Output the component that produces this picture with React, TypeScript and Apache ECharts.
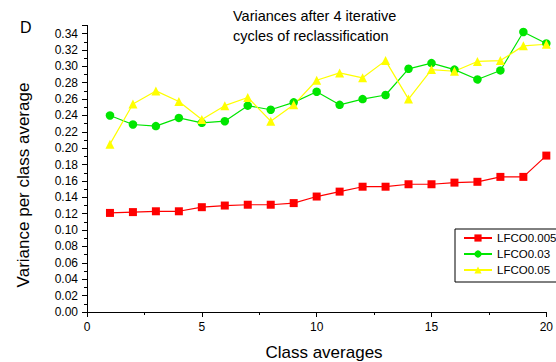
import React, { useEffect, useRef } from "react";
import * as echarts from "echarts";

const classes = [1, 2, 3, 4, 5, 6, 7, 8, 9, 10, 11, 12, 13, 14, 15, 16, 17, 18, 19, 20];
const lfco005 = [0.121, 0.122, 0.123, 0.123, 0.128, 0.130, 0.131, 0.131, 0.133, 0.141, 0.147, 0.153, 0.153, 0.156, 0.156, 0.158, 0.159, 0.165, 0.165, 0.191];
const lfco003 = [0.240, 0.229, 0.227, 0.237, 0.231, 0.233, 0.252, 0.247, 0.256, 0.269, 0.253, 0.260, 0.265, 0.297, 0.304, 0.296, 0.284, 0.295, 0.342, 0.328];
const lfco05 = [0.205, 0.254, 0.270, 0.257, 0.235, 0.252, 0.262, 0.233, 0.253, 0.283, 0.292, 0.286, 0.307, 0.260, 0.296, 0.294, 0.306, 0.307, 0.325, 0.327];
const seriesNames = ["LFCO0.005", "LFCO0.03", "LFCO0.05"];

const FONT = "'Liberation Sans', Arial, sans-serif";

export default function App() {
  const ref = useRef<HTMLDivElement>(null);
  useEffect(() => {
    if (!ref.current) return;
    const chart = echarts.init(ref.current, null, { renderer: "svg" });
    const pairs = (vals: number[]) => classes.map((c, i) => [c, vals[i]]);
    const mk = (name: string, vals: number[], color: string, symbol: string, size: number) => ({
      name,
      type: "line",
      data: pairs(vals),
      symbol,
      symbolSize: size,
      showAllSymbol: true,
      lineStyle: { color, width: 1.2 },
      itemStyle: { color, borderWidth: 0 },
      emphasis: { disabled: true },
    });
    chart.setOption({
      animation: false,
      backgroundColor: "#fff",
      textStyle: { fontFamily: FONT },
      grid: { left: 87, right: 5, top: 25.4, bottom: 50, containLabel: false },
      xAxis: {
        type: "value",
        min: 0,
        max: 20,
        interval: 5,
        splitLine: { show: false },
        axisLine: { show: true, onZero: false, lineStyle: { color: "#000", width: 1 } },
        axisTick: { show: true, inside: false, length: 5, lineStyle: { color: "#000" } },
        minorTick: { show: true, splitNumber: 2, length: 3, lineStyle: { color: "#000" } },
        axisLabel: { color: "#000", fontSize: 12, fontFamily: FONT, margin: 9 },
      },
      yAxis: {
        type: "value",
        min: 0,
        max: 0.35,
        interval: 0.02,
        splitLine: { show: false },
        axisLine: { show: true, onZero: false, lineStyle: { color: "#000", width: 1 } },
        axisTick: { show: true, inside: false, length: 5, lineStyle: { color: "#000" } },
        minorTick: { show: true, splitNumber: 2, length: 3, lineStyle: { color: "#000" } },
        axisLabel: {
          color: "#000",
          fontSize: 12,
          fontFamily: FONT,
          margin: 9,
          formatter: (v: number) => (Math.abs(v - 0.35) < 1e-9 ? "" : v.toFixed(2)),
        },
      },
      legend: {
        orient: "vertical",
        left: 455,
        top: 229,
        padding: [3, 40, 6, 8],
        itemWidth: 28,
        itemHeight: 9,
        itemGap: 4,
        borderColor: "#000",
        borderWidth: 1,
        borderRadius: 0,
        backgroundColor: "#fff",
        textStyle: { color: "#000", fontSize: 11.5, fontFamily: FONT },
        data: seriesNames,
      },
      graphic: [
        {
          type: "text",
          left: 20,
          top: 19,
          style: { text: "D", font: `16px ${FONT}`, fill: "#000" },
        },
        {
          type: "text",
          x: 233,
          y: 15.5,
          style: {
            text: "Variances after 4 iterative",
            font: `14.5px ${FONT}`,
            fill: "#000",
            align: "left",
            verticalAlign: "middle",
          },
        },
        {
          type: "text",
          x: 233,
          y: 36,
          style: {
            text: "cycles of reclassification",
            font: `14.5px ${FONT}`,
            fill: "#000",
            align: "left",
            verticalAlign: "middle",
          },
        },
        {
          type: "text",
          x: 23,
          y: 185,
          rotation: Math.PI / 2,
          style: {
            text: "Variance per class average",
            font: `17px ${FONT}`,
            fill: "#000",
            align: "center",
            verticalAlign: "middle",
          },
        },
        {
          type: "text",
          x: 324,
          y: 352,
          style: {
            text: "Class averages",
            font: `17px ${FONT}`,
            fill: "#000",
            align: "center",
            verticalAlign: "middle",
          },
        },
      ],
      series: [
        mk(seriesNames[0], lfco005, "#ff0000", "rect", 8),
        mk(seriesNames[1], lfco003, "#00e600", "circle", 8.5),
        mk(seriesNames[2], lfco05, "#ffff00", "triangle", 9),
      ],
    });
    return () => chart.dispose();
  }, []);
  return (
    <div
      ref={ref}
      style={{ position: "fixed", left: 0, top: 0, width: 556, height: 362, background: "#fff" }}
    />
  );
}
